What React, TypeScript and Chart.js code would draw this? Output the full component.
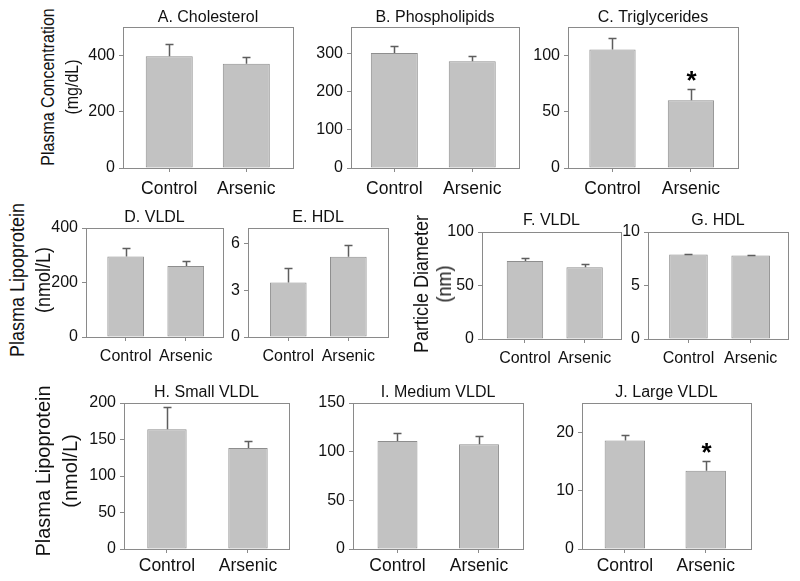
import React, { useEffect, useRef } from "react";
import { Chart, registerables } from "chart.js";

Chart.register(...registerables);

const FONT = '"Liberation Sans", Arial, Helvetica, sans-serif';

// ---------- data ----------
const categories = ["Control", "Arsenic"];

const cholesterol = [396, 370];
const cholesterolErr = [42, 24];
const cholesterolTicks = [0, 200, 400];

const phospholipids = [302, 280];
const phospholipidsErr = [18, 13];
const phospholipidsTicks = [0, 100, 200, 300];

const triglycerides = [105, 60];
const triglyceridesErr = [10, 10];
const triglyceridesSig = [false, true];
const triglyceridesTicks = [0, 50, 100];

const vldlConc = [295, 261];
const vldlConcErr = [31, 18];
const vldlConcTicks = [0, 200, 400];

const hdlConc = [3.5, 5.15];
const hdlConcErr = [0.95, 0.77];
const hdlConcTicks = [0, 3, 6];

const vldlSize = [73, 67];
const vldlSizeErr = [3, 3];
const vldlSizeTicks = [0, 50, 100];

const hdlSize = [7.9, 7.8];
const hdlSizeErr = [0.05, 0.05];
const hdlSizeTicks = [0, 5, 10];

const smallVldl = [164, 138.5];
const smallVldlErr = [30, 9.5];
const smallVldlTicks = [0, 50, 100, 150, 200];

const mediumVldl = [111, 107.5];
const mediumVldlErr = [8.5, 9];
const mediumVldlTicks = [0, 50, 100, 150];

const largeVldl = [18.6, 13.4];
const largeVldlErr = [1.0, 1.6];
const largeVldlSig = [false, true];
const largeVldlTicks = [0, 10, 20];

const noSig = [false, false];

// ---------- layout ----------
const Y_W = 48;
const TITLE_SPACE = 24;
const X_H = 36;
const RIGHT_PAD = 4;

type Panel = {
  title: string;
  values: number[];
  errors: number[];
  sig: boolean[];
  max: number;
  ticks: number[];
  box: [number, number, number, number];
  xRange: [number, number];
  barPct: number;
  titleGap: number;
  xSize: number;
  xPad: number;
  titleBg?: boolean;
};

const panels: Panel[] = [
  { title: "A. Cholesterol", values: cholesterol, errors: cholesterolErr, sig: noSig, max: 500, ticks: cholesterolTicks, box: [123, 27, 293, 168], xRange: [-0.6, 1.606], barPct: 0.61, titleGap: 5, xSize: 17.5, xPad: 7 },
  { title: "B. Phospholipids", values: phospholipids, errors: phospholipidsErr, sig: noSig, max: 370, ticks: phospholipidsTicks, box: [351, 27, 519, 168], xRange: [-0.556, 1.6], barPct: 0.603, titleGap: 5, xSize: 17.5, xPad: 7 },
  { title: "C. Triglycerides", values: triglycerides, errors: triglyceridesErr, sig: triglyceridesSig, max: 125, ticks: triglyceridesTicks, box: [568, 27, 738, 168], xRange: [-0.567, 1.6], barPct: 0.59, titleGap: 5, xSize: 17.5, xPad: 7 },
  { title: "D. VLDL", values: vldlConc, errors: vldlConcErr, sig: noSig, max: 400, ticks: vldlConcTicks, box: [86, 228, 223, 337], xRange: [-0.66, 1.62], barPct: 0.61, titleGap: 6, xSize: 16, xPad: 6 },
  { title: "E. HDL", values: hdlConc, errors: hdlConcErr, sig: noSig, max: 7, ticks: hdlConcTicks, box: [248, 228, 388, 337], xRange: [-0.67, 1.66], barPct: 0.61, titleGap: 6, xSize: 16, xPad: 6 },
  { title: "F. VLDL", values: vldlSize, errors: vldlSizeErr, sig: noSig, max: 100, ticks: vldlSizeTicks, box: [482, 232, 621, 339], xRange: [-0.72, 1.61], barPct: 0.61, titleGap: 7, xSize: 16, xPad: 6 },
  { title: "G. HDL", values: hdlSize, errors: hdlSizeErr, sig: noSig, max: 10, ticks: hdlSizeTicks, box: [648, 232, 788, 339], xRange: [-0.65, 1.6], barPct: 0.62, titleGap: 7, xSize: 16, xPad: 6 },
  { title: "H. Small VLDL", values: smallVldl, errors: smallVldlErr, sig: noSig, max: 200, ticks: smallVldlTicks, box: [124, 403, 289, 549], xRange: [-0.53, 1.506], barPct: 0.486, titleGap: 6, xSize: 17.5, xPad: 3 },
  { title: "I. Medium VLDL", values: mediumVldl, errors: mediumVldlErr, sig: noSig, max: 150, ticks: mediumVldlTicks, box: [353, 403, 523, 549], xRange: [-0.546, 1.54], barPct: 0.49, titleGap: 6, xSize: 17.5, xPad: 3 },
  { title: "J. Large VLDL", values: largeVldl, errors: largeVldlErr, sig: largeVldlSig, max: 25, ticks: largeVldlTicks, box: [582, 403, 751, 549], xRange: [-0.53, 1.56], barPct: 0.5, titleGap: 6, xSize: 17.5, xPad: 3, titleBg: true },
];

const groupLabels = [
  { lines: ["Plasma Concentration", "(mg/dL)"], xs: [48, 72], cy: 87, size: 16, stretch: 1.15 },
  { lines: ["Plasma Lipoprotein", "(nmol/L)"], xs: [17, 43], cy: 280, size: 18, stretch: 1.1 },
  { lines: ["Particle Diameter", "(nm)"], xs: [421, 444], cy: 284, size: 18, stretch: 1.1 },
  { lines: ["Plasma Lipoprotein", "(nmol/L)"], xs: [43, 70], cy: 471, size: 20, stretch: 1 },
];

const AXIS_COLOR = "#8a8a8a";
const BAR_FILL = "#c2c2c2";
const BAR_EDGE = "#8e8e8e";
const ERR_COLOR = "#5e5e5e";
const TEXT = "#111111";

const decorPlugin = {
  id: "panelDecor",
  beforeDatasetsDraw(chart: any) {
    const { ctx, chartArea: a } = chart;
    ctx.save();
    ctx.strokeStyle = AXIS_COLOR;
    ctx.lineWidth = 1;
    ctx.strokeRect(a.left + 0.5, a.top + 0.5, a.right - a.left, a.bottom - a.top);
    ctx.restore();
  },
  afterDatasetsDraw(chart: any, _args: any, opts: any) {
    const { ctx, chartArea: a } = chart;
    const ys = chart.scales.y;
    const meta = chart.getDatasetMeta(0);
    ctx.save();
    meta.data.forEach((bar: any, i: number) => {
      const v = opts.values[i];
      const e = opts.errors[i];
      const x = Math.round(bar.x) + 0.5;
      const y0 = ys.getPixelForValue(v);
      const y1 = Math.round(ys.getPixelForValue(v + e)) + 0.5;
      ctx.strokeStyle = ERR_COLOR;
      ctx.lineWidth = 1.5;
      ctx.beginPath();
      ctx.moveTo(x, y0);
      ctx.lineTo(x, y1);
      ctx.moveTo(x - 4, y1);
      ctx.lineTo(x + 4, y1);
      ctx.stroke();
      if (opts.sig[i]) {
        ctx.fillStyle = "#000";
        ctx.font = `bold 26px ${FONT}`;
        ctx.textAlign = "center";
        ctx.textBaseline = "alphabetic";
        ctx.fillText("*", x, y1 - 1);
      }
    });
    ctx.font = `16px ${FONT}`;
    ctx.textAlign = "center";
    ctx.textBaseline = "alphabetic";
    const cx = (a.left + a.right) / 2;
    const by = a.top - opts.titleGap;
    if (opts.titleBg) {
      const w = ctx.measureText(opts.title).width;
      ctx.fillStyle = "#ffffff";
      ctx.fillRect(cx - w / 2 + 6, by - 14, w - 12, opts.titleGap + 4);
    }
    ctx.fillStyle = TEXT;
    ctx.fillText(opts.title, cx, by);
    ctx.restore();
  },
};

function PanelChart({ p }: { p: Panel }) {
  const ref = useRef<HTMLCanvasElement>(null);
  const [l, t, r, b] = p.box;
  const width = Y_W + (r - l) + RIGHT_PAD;
  const height = TITLE_SPACE + (b - t) + X_H;
  useEffect(() => {
    if (!ref.current) return;
    const chart = new Chart(ref.current, {
      type: "bar",
      data: {
        datasets: [
          {
            data: p.values.map((v, i) => ({ x: i, y: v })),
            backgroundColor: BAR_FILL,
            borderColor: BAR_EDGE,
            borderWidth: 1,
            borderSkipped: false,
            barPercentage: p.barPct,
            categoryPercentage: 1,
          },
        ],
      },
      options: {
        responsive: false,
        animation: false,
        events: [],
        layout: { padding: { top: TITLE_SPACE, right: RIGHT_PAD, left: 0, bottom: 0 } },
        plugins: {
          legend: { display: false },
          tooltip: { enabled: false },
          title: { display: false },
          panelDecor: {
            values: p.values,
            errors: p.errors,
            sig: p.sig,
            title: p.title,
            titleGap: p.titleGap,
            titleBg: !!p.titleBg,
          },
        } as any,
        scales: {
          x: {
            type: "linear",
            min: p.xRange[0],
            max: p.xRange[1],
            offset: false,
            grid: { offset: false, drawOnChartArea: false, drawTicks: true, tickLength: 4, color: AXIS_COLOR },
            border: { display: false },
            ticks: {
              font: { family: FONT, size: p.xSize },
              color: TEXT,
              padding: p.xPad,
              maxRotation: 0,
              autoSkip: false,
              callback: (v: any) => categories[Math.round(Number(v))] ?? "",
            },
            afterBuildTicks: (s: any) => {
              s.ticks = categories.map((_, i) => ({ value: i }));
            },
            afterFit: (s: any) => {
              s.height = X_H;
            },
          },
          y: {
            min: 0,
            max: p.max,
            grid: { drawOnChartArea: false, drawTicks: true, tickLength: 4, color: AXIS_COLOR },
            border: { display: false },
            ticks: { font: { family: FONT, size: 16 }, color: TEXT, padding: 4 },
            afterBuildTicks: (s: any) => {
              s.ticks = p.ticks.map((v) => ({ value: v }));
            },
            afterFit: (s: any) => {
              s.width = Y_W;
            },
          },
        },
      } as any,
      plugins: [decorPlugin],
    });
    return () => chart.destroy();
  }, [p]);
  return (
    <canvas
      ref={ref}
      width={width}
      height={height}
      style={{ position: "absolute", left: l - Y_W, top: t - TITLE_SPACE, width, height }}
    />
  );
}

export default function App() {
  return (
    <div
      style={{
        position: "fixed",
        left: 0,
        top: 0,
        width: 800,
        height: 581,
        background: "#ffffff",
        overflow: "hidden",
        fontFamily: FONT,
        color: TEXT,
      }}
    >
      {panels.map((p, i) => (
        <PanelChart key={i} p={p} />
      ))}
      {groupLabels.map((g, gi) =>
        g.lines.map((line, li) => (
          <div
            key={`${gi}-${li}`}
            style={{
              position: "absolute",
              left: g.xs[li],
              top: g.cy,
              transform: `translate(-50%, -50%) rotate(-90deg) scaleY(${g.stretch})`,
              whiteSpace: "nowrap",
              fontSize: g.size,
              lineHeight: 1,
            }}
          >
            {line}
          </div>
        ))
      )}
    </div>
  );
}
